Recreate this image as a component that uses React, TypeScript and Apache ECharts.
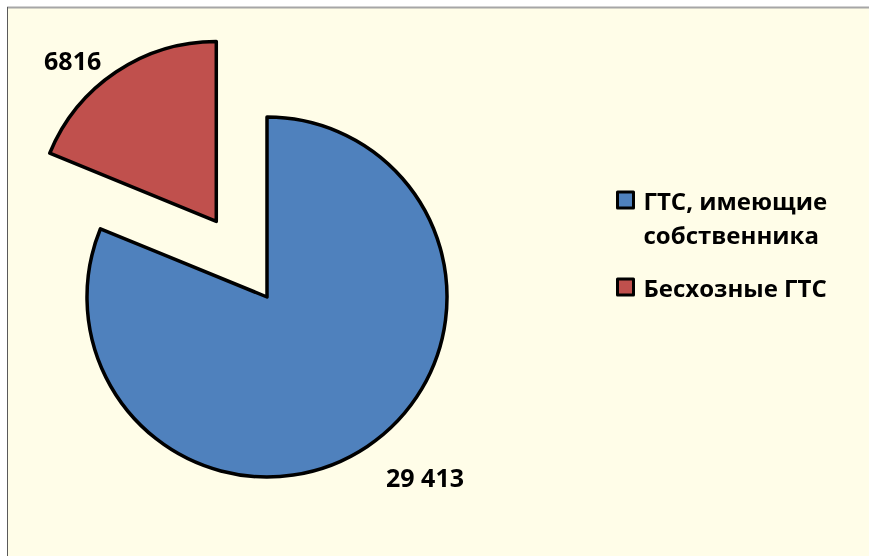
import React, { useEffect, useRef } from "react";
import * as echarts from "echarts";

const categories = ["ГТС, имеющие собственника", "Бесхозные ГТС"];
const values = [29413, 6816];
const valueLabels = ["29 413", "6816"];
const colors = ["#4F81BD", "#C0504D"];

const FONT = "'Open Sans', 'DejaVu Sans', sans-serif";

export default function App() {
  const ref = useRef<HTMLDivElement>(null);
  useEffect(() => {
    if (!ref.current) return;
    const chart = echarts.init(ref.current, undefined, { renderer: "svg" });
    const labelPos = [
      { x: 425, y: 477 },
      { x: 74, y: 46 },
    ];
    chart.setOption({
      animation: false,
      graphic: [
        {
          type: "rect",
          z: -10,
          silent: true,
          shape: { x: 7, y: 7, width: 870, height: 560 },
          style: { fill: "#FFFDE8", stroke: "none" },
        },
        {
          type: "line",
          z: -9,
          silent: true,
          shape: { x1: 7, y1: 7.5, x2: 869, y2: 7.5 },
          style: { stroke: "#A6A6A6", lineWidth: 2 },
        },
        {
          type: "line",
          z: -9,
          silent: true,
          shape: { x1: 7.5, y1: 7, x2: 7.5, y2: 556 },
          style: { stroke: "#5A5A5A", lineWidth: 1 },
        },
      ],
      legend: {
        orient: "vertical",
        left: 616,
        top: 149,
        padding: 0,
        itemWidth: 16,
        itemHeight: 16,
        itemGap: 19,
        icon: "rect",
        itemStyle: { borderColor: "#000", borderWidth: 3 },
        formatter: (name: string) =>
          name === categories[0] ? "\n" + name.replace("имеющие ", "имеющие\n") : name,
        textStyle: {
          fontFamily: FONT,
          fontWeight: "bold",
          fontSize: 24,
          lineHeight: 34,
          color: "#000",
          padding: [0, 0, 0, 5],
        },
        data: categories,
      },
      series: [
        {
          type: "pie",
          center: [267, 297],
          radius: 180,
          startAngle: 90,
          clockwise: true,
          selectedMode: "single",
          selectedOffset: 91,
          emphasis: { disabled: true },
          itemStyle: { borderColor: "#000", borderWidth: 3.5 },
          label: {
            show: true,
            formatter: (p: any) => valueLabels[p.dataIndex],
            fontFamily: FONT,
            fontWeight: "bold",
            fontSize: 25,
            color: "#000",
          },
          labelLine: { show: false },
          labelLayout: (p: any) => ({
            x: labelPos[p.dataIndex].x,
            y: labelPos[p.dataIndex].y,
            align: "center",
            verticalAlign: "middle",
          }),
          data: categories.map((c, i) => ({
            name: c,
            value: values[i],
            selected: i === 1,
            itemStyle: { color: colors[i] },
          })),
        },
      ],
    });
    return () => chart.dispose();
  }, []);
  return (
    <div
      ref={ref}
      style={{ position: "fixed", left: 0, top: 0, width: 869, height: 556 }}
    />
  );
}
